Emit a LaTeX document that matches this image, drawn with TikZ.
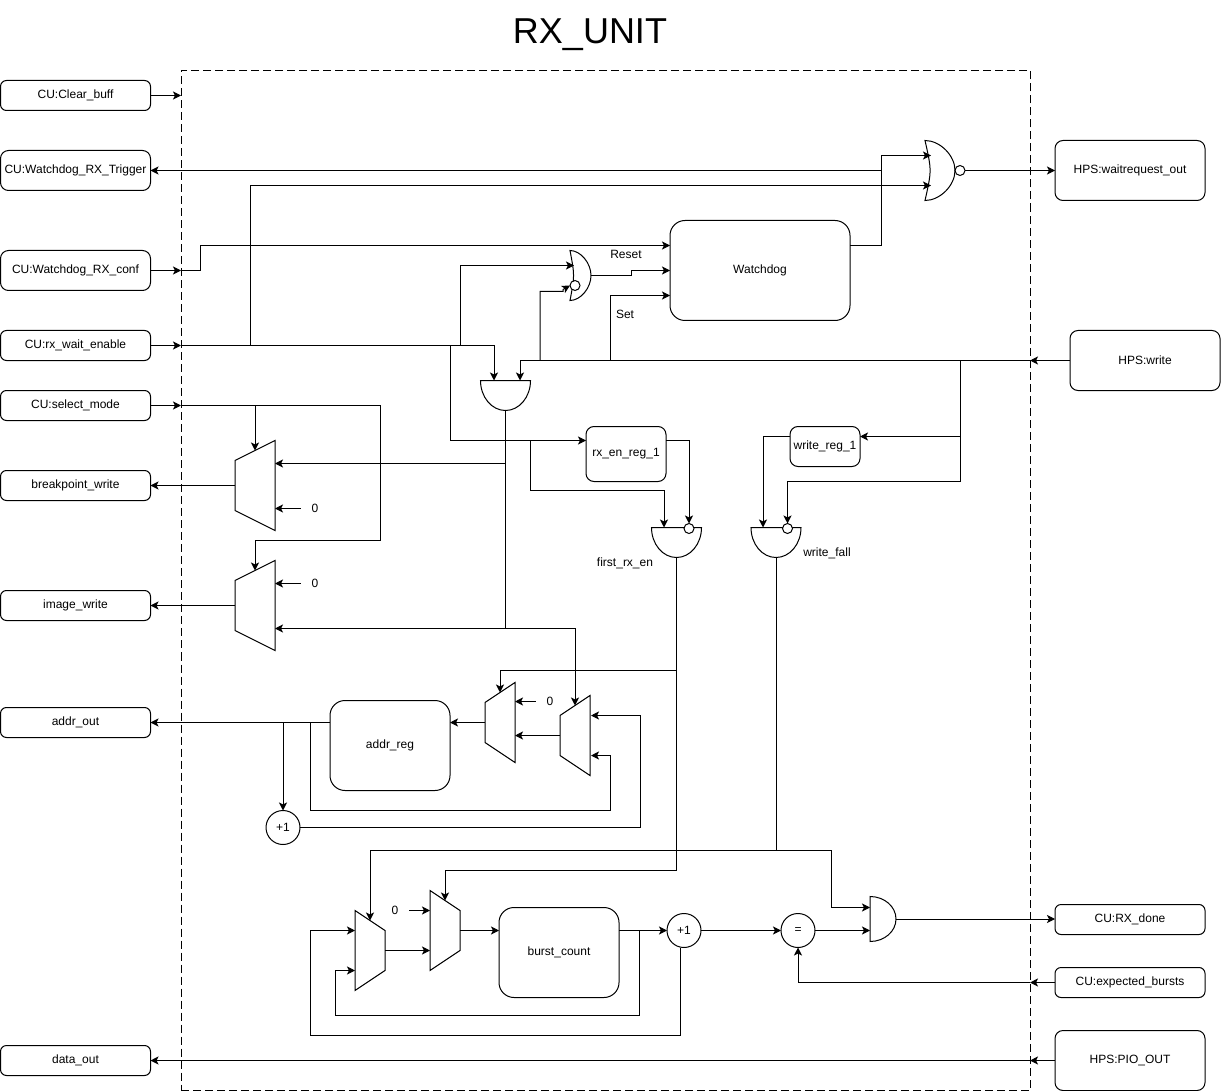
\documentclass[tikz,border=0pt]{standalone}
\usepackage{fontspec}
\setmainfont{Liberation Sans}
\usetikzlibrary{arrows.meta,positioning,calc}

\begin{document}
\begin{tikzpicture}[x=1pt,y=-1pt,line width=1pt,
  >={Stealth[length=8pt,width=8pt,inset=2pt]},%
  every node/.style={inner sep=0pt,outer sep=0pt,align=center,font=\fontsize{12}{14}\selectfont,},%
  e/.style={->},%
  ew/.style={->,shorten >=-10pt},%
  re/.style={draw,rounded corners=#1,},%
  re/.default=6pt,%
  lb/.style={re,minimum width=150pt,minimum height=30pt,},%
  lh/.style={re=8pt,minimum width=150pt,minimum height=#1,},%
  blk/.style={re=15pt,minimum width=120pt,minimum height=90pt,},%
  cr/.style={draw,circle,minimum size=34pt,},%
  bub/.style={draw,circle,fill=white,minimum size=10pt,},%
  zero/.style={inner xsep=11pt,},%
  sz/.style 2 args={minimum width=#1,minimum height=#2,},%
  muxl/.style={append after command={%
    \pgfextra{\draw (\tikzlastnode.north east) -- ([yshift=-20pt]\tikzlastnode.north west)
      -- ([yshift=20pt]\tikzlastnode.south west) -- (\tikzlastnode.south east) -- cycle;}},},%
  muxr/.style={append after command={%
    \pgfextra{\draw (\tikzlastnode.north west) -- ([yshift=-20pt]\tikzlastnode.north east)
      -- ([yshift=20pt]\tikzlastnode.south east) -- (\tikzlastnode.south west) -- cycle;}},},%
  andd/.style={sz={50pt}{30pt},append after command={%
    \pgfextra{\draw (\tikzlastnode.north east) arc[start angle=0,end angle=-180,x radius=25pt,y radius=30pt] -- cycle;}},},%
  andr/.style={sz={26pt}{45pt},append after command={%
    \pgfextra{\draw (\tikzlastnode.north west) arc[start angle=90,end angle=-90,x radius=26pt,y radius=22.5pt] -- cycle;}},},%
  org/.style={append after command={%
    \pgfextra{\draw (\tikzlastnode.north west) .. controls (\tikzlastnode.north) and ($(\tikzlastnode.north east)!.5!(\tikzlastnode.east)$) .. (\tikzlastnode.east)
      .. controls ($(\tikzlastnode.south east)!.5!(\tikzlastnode.east)$) and (\tikzlastnode.south) .. (\tikzlastnode.south west)
      .. controls ($(\tikzlastnode.west)!.45!(\tikzlastnode.center)$) and ($(\tikzlastnode.west)!.45!(\tikzlastnode.center)$) .. cycle;}},},%
  ]
  \useasboundingbox (0,-.5) rectangle (1221,1090.5);

  \node (title) at (590,34) {\fontsize{36}{40}\selectfont RX\_UNIT};
  \node (frame) [draw,dash pattern=on 8pt off 4pt,sz={849pt}{1020pt}] at (605.5,580) {};

  \node (clear) [lb] at (75.5,95) {CU:Clear\_buff};
  \node (trig) [lh=40pt,below=40pt of clear] {CU:Watchdog\_RX\_Trigger};
  \node (conf) [lh=40pt,below=60pt of trig] {CU:Watchdog\_RX\_conf};
  \node (rxw) [lb,below=40pt of conf] {CU:rx\_wait\_enable};
  \node (smode) [lb,below=30pt of rxw] {CU:select\_mode};
  \node (bw) [lb,below=50pt of smode] {breakpoint\_write};
  \node (iw) [lb,below=90pt of bw] {image\_write};
  \node (aout) [lb,below=87pt of iw] {addr\_out};
  \node (dout) [lb,below=308pt of aout] {data\_out};

  \node (wait) [lh=60pt] at (1130,170) {HPS:waitrequest\_out};
  \node (hw) [lh=60pt] at (1145,360) {HPS:write};
  \node (done) [lb] at (1130,919) {CU:RX\_done};
  \node (expd) [lb,below=33pt of done] {CU:expected\_bursts};
  \node (pio) [lh=60pt,below=33pt of expd] {HPS:PIO\_OUT};

  \node (dog) [re=15pt,sz={180pt}{100pt}] at (760,270) {Watchdog};
  \node (rxen) [re=8pt,sz={80pt}{55pt}] at (626,453.5) {rx\_en\_reg\_1};
  \node (wreg) [re=8pt,sz={70pt}{40pt}] at (825,446) {write\_reg\_1};
  \node (areg) [blk] at (390,745) {addr\_reg};
  \node (burst) [blk] at (559,952) {burst\_count};

  \node (nor) [org,sz={30pt}{60pt}] at (940,170) {};
  \node (norb) [bub] at (960,170) {};
  \node (orr) [org,sz={21pt}{50pt}] at (580.5,275) {};
  \node (orb) [bub] at (575,285) {};
  \node (anda) [andd] at (505.5,395) {};
  \node (first) [andd] at (676.5,542) {};
  \node (firstb) [bub] at (689,528) {};
  \node (fall) [andd] at (776,542) {};
  \node (fallb) [bub] at (787.5,528) {};
  \node (andb) [andr] at (883,918.5) {};

  \node (muxa) [muxl,sz={40pt}{90pt}] at (255,485) {};
  \node (muxb) [muxl,sz={40pt}{90pt},below=30pt of muxa] {};
  \node (muxc) [muxl,sz={30pt}{80pt}] at (500,722) {};
  \node (muxd) [muxl,sz={30pt}{80pt}] at (575,735) {};
  \node (muxe) [muxr,sz={30pt}{80pt}] at (370,950) {};
  \node (muxf) [muxr,sz={30pt}{80pt}] at (445,930) {};

  \node (inca) [cr] at (283,827) {+1};
  \node (incb) [cr] at (684,930) {+1};
  \node (eq) [cr] at (798,930) {=};

  \node (zeroa) [zero] at (315,508) {0};
  \node (zerob) [zero] at (315,583) {0};
  \node (zeroc) [zero] at (550,701) {0};
  \node (zerod) [zero] at (395,910) {0};

  \node (lreset) at (626,254) {Reset};
  \node (lset) at (625,314) {Set};
  \node (lfirst) at (625,563) {first\_rx\_en};
  \node (lfall) at (827,553) {write\_fall};

  \coordinate (jconf) at (200,245);
  \coordinate (jnor) at (250,345);
  \coordinate (jreg) at (450,345);
  \coordinate (jor) at (460,345);
  \coordinate (jand) at (494,345);
  \coordinate (jen) at (530,440);
  \coordinate (jfirst) at (664,490);
  \coordinate (jw) at (520,360);
  \coordinate (jwa) at (540,360);
  \coordinate (jwb) at (610,360);
  \coordinate (jwc) at (960,360);
  \coordinate (jwd) at (960,436);
  \coordinate (jwe) at (787.5,481);
  \coordinate (jwf) at (763,527);
  \coordinate (jwg) at (563,291);
  \coordinate (jwh) at (563,289);
  \coordinate (jtr) at (881,170);
  \coordinate (nora) at (931,155);
  \coordinate (norc) at (931,185);
  \coordinate (ora) at (574,265);
  \coordinate (jsel) at (255,405);
  \coordinate (jsb) at (380,540);
  \coordinate (jaa) at (505.5,463);
  \coordinate (jab) at (505.5,628);
  \coordinate (jfa) at (676.5,670);
  \coordinate (jfb) at (445,870);
  \coordinate (jfc) at (776,850);
  \coordinate (jfd) at (831,907);
  \coordinate (jra) at (310,722);
  \coordinate (jrb) at (283,722);
  \coordinate (jrc) at (610,810);
  \coordinate (jrd) at (640,715);
  \coordinate (mda) at (591,755);
  \coordinate (mdb) at (591,715);
  \coordinate (jba) at (639,930);
  \coordinate (jbb) at (335,1015);
  \coordinate (jbc) at (310,1035);
  \coordinate (mea) at (355,970);
  \coordinate (meb) at (355,930);

  \draw [e] (clear) -- (clear -| frame.west);
  \draw [e] (jtr) -- (jtr -| trig.east);
  \draw [e] (conf) -- (conf -| frame.west);
  \draw [e] (conf -| frame.west) -| (jconf) -- (jconf -| dog.west);
  \draw [e] (rxw) -- (rxw -| frame.west);
  \draw (rxw -| frame.west) -- (jand);
  \draw [e] (jand) -- (jand |- anda.north);
  \draw [e] (jnor) |- (norc);
  \draw [e] (jor) |- (ora);
  \draw [e] (jreg) |- (jen -| rxen.west);
  \draw [e] (jen) |- (jfirst) -- (jfirst |- first.north);
  \draw [e] (jen -| rxen.east) -| (firstb.north);

  \draw [e] (hw) -- (hw -| frame.east);
  \draw (hw -| frame.east) -- (jw);
  \draw [e] (jw) -- (jw |- anda.north);
  \draw [e] (jwa) |- (jwg) -- (jwh) -- (orb.west);
  \draw [e] (jwb) |- ([yshift=-25pt]dog.west);
  \draw [e] (jwc) |- (jwe) -- (fallb.north);
  \draw [e] (jwd) -- (jwd -| wreg.east);
  \draw [e] (jwd -| wreg.west) -| (jwf);

  \draw [e] ([yshift=25pt]dog.east) -| (jtr) |- (nora);
  \draw [e] (norb.east) -- (norb -| wait.west);
  \draw [e] (orr.east) -- ++(40,0) |- (dog.west);

  \draw (anda.south) -- (jab);
  \draw [e] (jaa) -- (jaa -| muxa.east);
  \draw [e] (jab) -- (jab -| muxb.east);
  \draw [ew] (jab) -| (muxd.north);
  \draw [e] (smode) -- (smode -| frame.west);
  \draw (smode -| frame.west) -| (jsb);
  \draw [ew] (jsel) -- (muxa.north);
  \draw [ew] (jsb) -| (muxb.north);
  \draw [e] (muxa.west) -- (muxa.west -| bw.east);
  \draw [e] (muxb.west) -- (muxb.west -| iw.east);
  \draw [e] (zeroa) -- (zeroa -| muxa.east);
  \draw [e] (zerob) -- (zerob -| muxb.east);

  \draw (first.south) -- (jfa);
  \draw [ew] (jfa) -| (muxc.north);
  \draw [ew] (jfa) |- (jfb) -- (muxf.north);
  \draw [e] (zeroc) -- (zeroc -| muxc.east);
  \draw [e] (muxc.west) -- (muxc.west -| areg.east);
  \draw [e] (muxd.west) -- (muxd.west -| muxc.east);
  \draw [e] (jra -| areg.west) -- (jra -| aout.east);
  \draw [e] (jrb) -- (inca.north);
  \draw [e] (jra) |- (jrc) |- (mda);
  \draw [e] (inca.east) -| (jrd) -- (mdb);

  \draw (fall.south) -- (jfc);
  \draw [ew] (jfc) -| (muxe.north);
  \draw [e] (jfc) -| (jfd) -- (jfd -| andb.west);
  \draw [e] (zerod) -- (zerod -| muxf.west);
  \draw [e] (muxe.east) -- (muxe.east -| muxf.west);
  \draw [e] (muxf.east) -- (muxf.east -| burst.west);
  \draw [e] (jba -| burst.east) -- (incb.west);
  \draw [e] (jba) |- (jbb) |- (mea);
  \draw [e] ([xshift=-4pt]incb.south) |- (jbc) |- (meb);
  \draw [e] (incb.east) -- (eq.west);
  \draw [e] (eq.east) -- (eq.east -| andb.west);
  \draw [e] (andb.east) -- (andb.east -| done.west);
  \draw [e] (expd) -- (expd -| frame.east);
  \draw [e] (expd -| frame.east) -| (eq.south);
  \draw [e] (pio) -- (pio -| frame.east);
  \draw [e] (pio -| frame.east) -- (pio -| dout.east);
\end{tikzpicture}
\end{document}
